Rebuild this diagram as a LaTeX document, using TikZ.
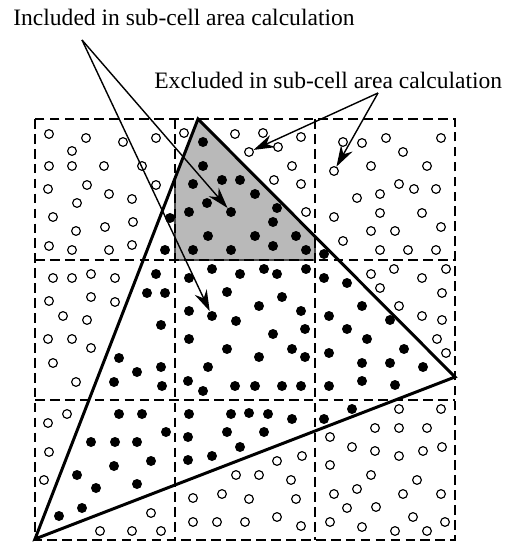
\documentclass[tikz,border=0pt]{standalone}
\usepackage{fontspec}
\setmainfont{Liberation Serif}
\usepackage{tikz}
\usetikzlibrary{arrows.meta}

\begin{document}
\begin{tikzpicture}[x=0.02cm, y=-0.02cm,
    >={Stealth[length=12pt, width=7.5pt]},
    odot/.style={circle, draw, line width=0.65pt, inner sep=0pt, minimum size=0.175cm},
    fdot/.style={circle, fill=black, inner sep=0pt, minimum size=0.2cm},
    txt/.style={inner sep=0pt, anchor=base west, font=\fontsize{13.4pt}{16pt}\selectfont},
    pointer/.style={->, line width=0.8pt}]

    \useasboundingbox (0,0) rectangle (512,543);

    % =================================================================
    % 1. TAM GIÁC VÀ Ô ĐƯỢC TÔ XÁM
    % =================================================================
    \coordinate (A) at (198,119);
    \coordinate (B) at (455,377);
    \coordinate (C) at (35,539);

    \begin{scope}
        \clip (A) -- (B) -- (C) -- cycle;
        \fill[gray!55, draw=black!70, line width=0.6pt] (175,119) rectangle (315,260);
    \end{scope}

    % =================================================================
    % 2. LƯỚI Ô VUÔNG (NÉT ĐỨT)
    % =================================================================
    \draw[dashed, line width=1.25pt, dash pattern=on 5.5pt off 3pt] (35,119) rectangle (455,540);
    \foreach \x in {175, 315} {
        \draw[dashed, line width=0.7pt, dash pattern=on 5.5pt off 3pt] (\x,119) -- (\x,540);
    }
    \foreach \y in {260, 400} {
        \draw[dashed, line width=0.7pt, dash pattern=on 5.5pt off 3pt] (35,\y) -- (455,\y);
    }

    % =================================================================
    % 3. CÁC ĐIỂM (TRÒN RỖNG: NGOÀI, TRÒN ĐẶC: TRONG TAM GIÁC)
    % =================================================================
    \foreach \x/\y in {49/134, 86/138, 123/142, 156/138, 72/151, 49/166, 72/166, 104/166,
        142/166, 48/189, 87/185, 156/185, 109/194, 77/203, 132/199, 53/217, 133/222,
        105/227, 76/231, 49/246, 72/250, 109/250, 132/245,
        184/133, 235/134, 263/133, 301/137, 278/147, 292/166, 274/180, 301/184, 306/212,
        343/142, 362/143, 386/138, 441/138, 403/152, 371/166, 427/166, 399/184, 414/189,
        436/189, 357/198, 380/194, 334/217, 380/213, 422/213, 343/241, 371/231, 395/231,
        441/227, 380/250, 408/250, 436/250,
        53/278, 72/278, 91/274, 115/278, 49/301, 91/297, 115/302, 63/316, 87/320, 48/339,
        72/339, 91/348, 53/363, 76/382,
        371/274, 394/269, 446/269, 422/278, 380/288, 442/293, 399/306, 422/316, 442/320,
        437/339, 446/353,
        67/414, 48/423, 49/452, 44/480, 151/513, 100/531, 132/531, 161/531,
        277/461, 302/456, 236/475, 259/475, 291/480, 193/498, 222/494, 249/499, 296/499,
        193/522, 217/522, 245/522, 277/517, 301/526,
        399/409, 441/409, 330/437, 375/428, 399/428, 427/428, 352/447, 375/451, 399/456,
        423/451, 442/447, 330/465, 371/475, 417/480, 334/494, 357/489, 403/494, 441/494,
        347/508, 376/507, 413/517, 330/522, 362/527, 395/531, 427/531, 445/522}
        \node[odot] at (\x,\y) {};

    \foreach \x/\y in {170/218, 165/250,
        203/142, 203/166, 193/184, 222/180, 240/180, 255/194, 207/203, 189/212, 277/208,
        273/222, 208/236, 255/236, 296/236, 193/250, 231/250, 273/246, 306/250,
        324/254,
        156/274, 147/293, 165/293, 161/325, 119/358, 137/372, 161/367, 114/382, 162/386,
        212/269, 240/274, 264/269, 277/274, 306/269, 189/278, 227/292, 282/297, 189/311,
        236/321, 259/306, 301/311, 305/329, 273/334, 189/339, 227/349, 292/349, 259/357,
        305/357, 208/367, 188/381, 203/391, 235/386, 255/386, 282/386, 301/386,
        324/278, 347/283, 362/306, 329/316, 390/320, 347/329, 367/339, 329/353, 404/349,
        362/363, 390/363, 423/367, 329/386, 362/381, 395/385,
        119/414, 142/414, 166/432, 91/442, 115/442, 137/442, 151/461, 114/466, 77/475,
        96/488, 137/484, 82/508, 59/516,
        189/414, 231/414, 249/413, 268/414, 292/419, 188/437, 227/432, 264/432, 240/447,
        188/460, 212/456,
        324/419, 352/409}
        \fill (\x,\y) circle (0.1cm);

    % các điểm được chỉ bởi mũi tên
    \node[fdot] (inA) at (231,212) {};
    \node[fdot] (inB) at (212,316) {};
    \node[odot] (exA) at (249,152) {};
    \node[odot] (exB) at (334,171) {};

    % cạnh tam giác
    \draw[line width=1.7pt, line join=miter] (A) -- (B) -- (C) -- cycle;

    % =================================================================
    % 4. CHÚ THÍCH VÀ MŨI TÊN
    % =================================================================
    \node[txt] (incl) at (13,26) {Included in sub-cell area calculation};
    \node[txt] (excl) at (154,89) {Excluded in sub-cell area calculation};

    \coordinate (incltip) at (82,40);
    \coordinate (excltip) at (378,93);

    \draw[pointer] (incltip) -- (inA);
    \draw[pointer] (incltip) -- (inB);
    \draw[pointer] (excltip) -- (exA);
    \draw[pointer] (excltip) -- (exB);

\end{tikzpicture}
\end{document}
